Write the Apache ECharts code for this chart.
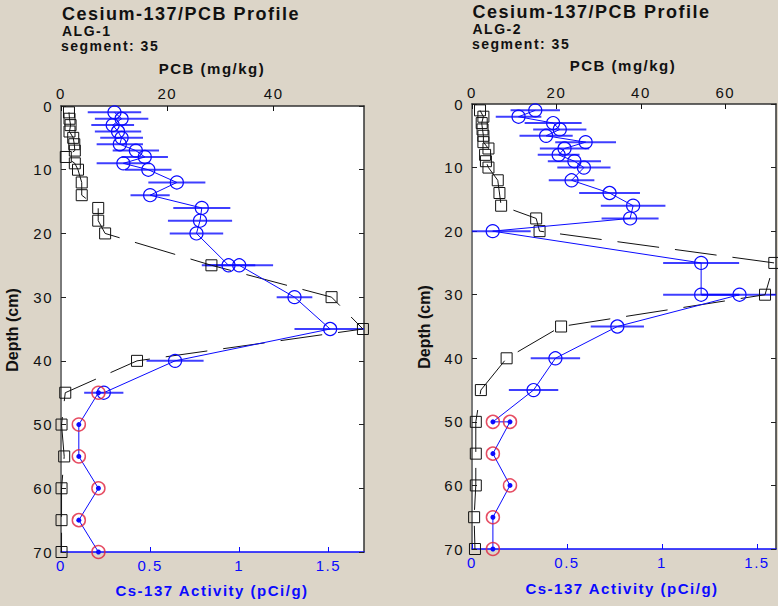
<!DOCTYPE html>
<html>
<head>
<meta charset="utf-8">
<script src="https://cdn.jsdelivr.net/npm/echarts@6/dist/echarts.min.js"></script>
<style>
html,body{margin:0;padding:0;background:#dcd5c8;}
#c{width:778px;height:606px;letter-spacing:1.5px;}
</style>
</head>
<body>
<div id="c"></div>
<script>
// ---------- ALG-1 ----------
const pcbDepth1 = [1,2,3,4,5,6,7,8,9,10,12,14,16,18,20,25,30,35,40,45,50,55,60,65,70];
const pcb1      = [1.5,1.6,1.8,1.6,2.3,2.5,2.6,0.9,2.6,3.2,3.9,3.9,7.0,7.0,8.3,28.3,50.9,56.8,14.3,0.8,0.1,0.6,0.1,0.1,0.1];
const csDepth1  = [1,2,3,4,5,6,7,8,9,10,12,14,16,18,20,25,25,30,35,40,45];
const cs1       = [0.30,0.34,0.29,0.32,0.34,0.33,0.42,0.47,0.35,0.49,0.65,0.50,0.79,0.78,0.76,0.94,1.00,1.31,1.51,0.64,0.24];
const csErr1    = [0.15,0.15,0.12,0.13,0.12,0.13,0.13,0.13,0.15,0.13,0.16,0.11,0.16,0.18,0.15,0.15,0.19,0.10,0.20,0.16,0.11];
const ndDepth1  = [45,50,55,60,65,70];
const nd1       = [0.21,0.10,0.10,0.21,0.10,0.21];

// ---------- ALG-2 ----------
const pcbDepth2 = [1,2,3,4,5,6,7,8,9,10,12,14,16,18,20,25,30,35,40,45,50,55,60,65,70];
const pcb2      = [1.9,2.7,2.3,2.5,2.7,2.7,3.9,3.1,3.3,3.9,6.1,6.5,6.9,15.2,16.0,71.6,69.4,21.1,8.2,2.1,0.9,0.9,0.9,0.5,0.7];
const csDepth2  = [1,2,3,4,5,6,7,8,9,10,12,14,16,18,20,25,30,30,35,40,45];
const cs2       = [0.333,0.245,0.427,0.462,0.39,0.598,0.487,0.456,0.539,0.589,0.524,0.724,0.848,0.832,0.109,1.206,1.206,1.408,0.765,0.439,0.324];
const csErr2    = [0.13,0.12,0.15,0.14,0.14,0.16,0.13,0.11,0.14,0.14,0.12,0.16,0.17,0.15,0.20,0.20,0.20,0.20,0.14,0.13,0.13];
const ndDepth2  = [50,50,55,60,65,70];
const nd2       = [0.11,0.20,0.11,0.20,0.11,0.11];

// tick labels
const depthTicks = [0,10,20,30,40,50,60,70];

const FONT = '"Liberation Sans", Arial, sans-serif';
const BLUE = '#0a0aff';

const chart = echarts.init(document.getElementById('c'), null, {renderer:'svg'});

function csAxis(grid, max){
  return {type:'value', gridIndex:grid, position:'bottom', min:0, max:max, interval:0.5,
    axisLine:{show:true, onZero:false, lineStyle:{color:BLUE, width:1.5}},
    axisTick:{show:true, inside:true, length:5, lineStyle:{color:BLUE}},
    axisLabel:{color:BLUE, fontSize:15, fontFamily:FONT, margin:6, showMaxLabel:false},
    splitLine:{show:false}};
}
function pcbAxis(grid, max, margin){
  return {type:'value', gridIndex:grid, position:'top', min:0, max:max, interval:20,
    axisLine:{show:true, onZero:false, lineStyle:{color:'#333', width:1.5}},
    axisTick:{show:true, inside:true, length:5, lineStyle:{color:'#111'}},
    axisLabel:{color:'#111', fontSize:15, fontFamily:FONT, margin:margin, showMaxLabel:false},
    splitLine:{show:false}};
}
function depthAxis(grid){
  return {type:'value', gridIndex:grid, position:'left', inverse:true, min:0, max:70, interval:10,
    axisLine:{show:true, onZero:false, lineStyle:{color:'#7a7a7a', width:2}},
    axisTick:{show:true, inside:true, length:5, lineStyle:{color:'#222'}},
    axisLabel:{color:'#111', fontSize:15, fontFamily:FONT, margin:8,
      formatter:v => depthTicks.indexOf(v) >= 0 ? String(v) : ''},
    splitLine:{show:false}};
}
function rightAxis(grid){
  return {type:'value', gridIndex:grid, position:'right', inverse:true, min:0, max:70, interval:10,
    axisLine:{show:true, onZero:false, lineStyle:{color:'#333', width:1.5}},
    axisTick:{show:true, inside:true, length:5, lineStyle:{color:'#222'}},
    axisLabel:{show:false}, splitLine:{show:false}};
}

function errSeries(xi, yi, xs, ys, es){
  return {type:'custom', xAxisIndex:xi, yAxisIndex:yi, clip:true, silent:true, z:1,
    data: xs.map((x,i)=>[x-es[i], x+es[i], ys[i]]),
    encode:{x:[0,1], y:2},
    renderItem:(params, api)=>{
      const a = api.coord([api.value(0), api.value(2)]);
      const b = api.coord([api.value(1), api.value(2)]);
      return {type:'line', shape:{x1:a[0], y1:a[1], x2:b[0], y2:b[1]},
        style:{stroke:'rgba(15,15,255,0.8)', lineWidth:2}};
    }};
}
function csLine(xi, yi, xs, ys, ndx, ndy){
  const data = xs.map((x,i)=>[x, ys[i]]);
  ndx.forEach((x,i)=>data.push({value:[x, ndy[i]], symbol:'circle', symbolSize:5,
    itemStyle:{color:BLUE, borderWidth:0}}));
  return {type:'line', xAxisIndex:xi, yAxisIndex:yi, data:data, symbol:'circle', symbolSize:13,
    showSymbol:true, showAllSymbol:true, silent:true, z:3,
    lineStyle:{color:BLUE, width:1},
    itemStyle:{color:'rgba(0,0,0,0)', borderColor:BLUE, borderWidth:1.2}};
}
function ndScatter(xi, yi, ndx, ndy){
  return {type:'scatter', xAxisIndex:xi, yAxisIndex:yi, data:ndx.map((x,i)=>[x, ndy[i]]),
    symbol:'circle', symbolSize:13, silent:true, z:4,
    itemStyle:{color:'rgba(0,0,0,0)', borderColor:'#e0203c', borderWidth:1.5}};
}
function pcbLine(xi, yi, xs, ys){
  return {type:'line', xAxisIndex:xi, yAxisIndex:yi, data:xs.map((x,i)=>[x, ys[i]]),
    symbol:'rect', symbolSize:11, showSymbol:true, showAllSymbol:true, silent:true, z:2,
    lineStyle:{color:'#111', width:1, type:[42,16]},
    itemStyle:{color:'rgba(0,0,0,0)', borderColor:'#111', borderWidth:1}};
}

function txt(x, y, text, font, fill, align, rot){
  return {type:'text', x:x, y:y, rotation:rot || 0, silent:true,
    style:{text:text, font:font, fill:fill || '#111',
      align:align || 'left', textAlign:align || 'left',
      verticalAlign:'middle', textVerticalAlign:'middle'}};
}

const option = {
  animation:false,
  backgroundColor:'#dcd5c8',
  grid:[
    {left:61, top:106, width:303, height:446, show:true, backgroundColor:'#ffffff', borderWidth:0},
    {left:472, top:104, width:304, height:445, show:true, backgroundColor:'#ffffff', borderWidth:0}
  ],
  xAxis:[csAxis(0, 1.7), pcbAxis(0, 57, 5), csAxis(1, 1.6), pcbAxis(1, 72, 4)],
  yAxis:[depthAxis(0), rightAxis(0), depthAxis(1), rightAxis(1)],
  graphic:[
    txt(62, 13.5, 'Cesium-137/PCB Profile', 'bold 18px ' + FONT),
    txt(62, 31, 'ALG-1', 'bold 14px ' + FONT),
    txt(61, 45.5, 'segment: 35', 'bold 14px ' + FONT),
    txt(212, 68, 'PCB (mg/kg)', 'bold 15px ' + FONT, '#111', 'center'),
    txt(212, 590, 'Cs-137 Activity (pCi/g)', 'bold 15px ' + FONT, BLUE, 'center'),
    txt(12.5, 330, 'Depth (cm)', 'bold 16px ' + FONT, '#111', 'center', Math.PI/2),
    txt(472.5, 11.5, 'Cesium-137/PCB Profile', 'bold 18px ' + FONT),
    txt(472.5, 29, 'ALG-2', 'bold 14px ' + FONT),
    txt(472, 43.5, 'segment: 35', 'bold 14px ' + FONT),
    txt(623, 65, 'PCB (mg/kg)', 'bold 15px ' + FONT, '#111', 'center'),
    txt(622, 588, 'Cs-137 Activity (pCi/g)', 'bold 15px ' + FONT, BLUE, 'center'),
    txt(424.5, 327, 'Depth (cm)', 'bold 16px ' + FONT, '#111', 'center', Math.PI/2)
  ],
  series:[
    errSeries(0, 0, cs1, csDepth1, csErr1),
    pcbLine(1, 0, pcb1, pcbDepth1),
    csLine(0, 0, cs1, csDepth1, nd1, ndDepth1),
    ndScatter(0, 0, nd1, ndDepth1),
    errSeries(2, 2, cs2, csDepth2, csErr2),
    pcbLine(3, 2, pcb2, pcbDepth2),
    csLine(2, 2, cs2, csDepth2, nd2, ndDepth2),
    ndScatter(2, 2, nd2, ndDepth2)
  ]
};
chart.setOption(option);
document.querySelectorAll('#c text').forEach(t=>{
  if (t.textContent === 'Depth (cm)') t.style.letterSpacing = '0px';
});
</script>
</body>
</html>
